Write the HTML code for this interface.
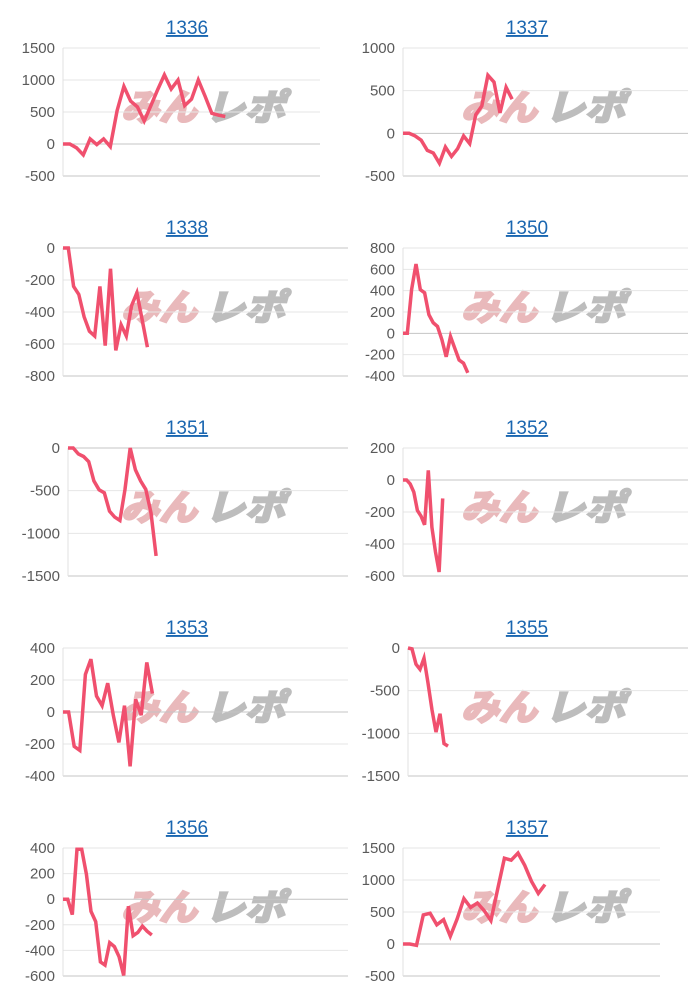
<!DOCTYPE html>
<html><head><meta charset="utf-8">
<style>
html,body{margin:0;padding:0;background:#fff;}
svg{display:block;font-family:"Liberation Sans","Noto Sans CJK JP",sans-serif;}
</style></head>
<body>
<svg id="root" width="700" height="1000" viewBox="0 0 700 1000"></svg>
<script>
const titles = ["1336","1337","1338","1350","1351","1352","1353","1355","1356","1357"];
const yTicks1336 = [1500,1000,500,0,-500];
const yTicks1337 = [1000,500,0,-500];
const yTicks1338 = [0,-200,-400,-600,-800];
const yTicks1350 = [800,600,400,200,0,-200,-400];
const yTicks1351 = [0,-500,-1000,-1500];
const yTicks1352 = [200,0,-200,-400,-600];
const yTicks1353 = [400,200,0,-200,-400];
const yTicks1355 = [0,-500,-1000,-1500];
const yTicks1356 = [400,200,0,-200,-400,-600];
const yTicks1357 = [1500,1000,500,0,-500];
const s1336 = [0,0,-60,-170,80,-10,80,-40,520,900,670,580,360,600,850,1080,860,1000,600,700,1000,750,480,450,430];
const s1337 = [0,0,-30,-80,-200,-230,-350,-160,-270,-180,-30,-120,220,320,680,600,240,540,400];
const s1338 = [0,0,-240,-290,-430,-520,-550,-240,-610,-130,-640,-480,-550,-360,-280,-450,-620];
const s1350 = [0,0,410,650,410,380,175,100,65,-60,-220,-30,-140,-250,-280,-370];
const s1351 = [0,0,-70,-100,-160,-385,-490,-525,-740,-810,-850,-485,0,-255,-385,-485,-760,-1265];
const s1352 = [0,0,-25,-75,-190,-225,-280,60,-295,-450,-575,-115];
const s1353 = [0,0,-215,-240,235,330,100,40,180,-20,-190,40,-340,80,-20,310,115];
const s1355 = [0,-10,-190,-250,-120,-410,-725,-985,-770,-1120,-1150];
const s1356 = [0,0,-120,390,390,195,-95,-175,-490,-515,-340,-370,-450,-595,-55,-285,-260,-210,-250,-280];
const s1357 = [0,0,-20,455,480,300,380,120,390,710,570,640,520,365,860,1340,1310,1420,1230,980,790,930];
const xMaxes = [38,47,54,66,54,79,51,70,61,38];

const series=[s1336,s1337,s1338,s1350,s1351,s1352,s1353,s1355,s1356,s1357];
const ticks=[yTicks1336,yTicks1337,yTicks1338,yTicks1350,yTicks1351,yTicks1352,yTicks1353,yTicks1355,yTicks1356,yTicks1357];
const lefts=[63,403,63,403,68,403,63,408,63,403];
const rights=[320,688,348,688,348,688,348,688,348,660];
const NS="http://www.w3.org/2000/svg";
const root=document.getElementById('root');
function mk(tag,attrs,parent){const e=document.createElementNS(NS,tag);for(const k in attrs)e.setAttribute(k,attrs[k]);parent.appendChild(e);return e;}

titles.forEach((t,ci)=>{
  const col=ci%2,row=Math.floor(ci/2);
  const y0=row*200;
  const L=lefts[ci],R=rights[ci],T=y0+48,B=y0+176;
  const tk=ticks[ci];const yMax=tk[0],yMin=tk[tk.length-1];
  const ys=v=>T+(yMax-v)/(yMax-yMin)*(B-T);
  const xs=i=>L+i/xMaxes[ci]*(R-L);
  const g=mk('g',{},root);
  
  
  // watermark
  const wx=col?461:121;
  const w1=mk('text',{x:wx,y:y0+120,'font-size':36,'font-weight':'bold','font-style':'italic',fill:'#e9b9bb',stroke:'#e9b9bb','stroke-width':2.5,textLength:76,lengthAdjust:'spacingAndGlyphs'},g);
  w1.textContent='みん';
  
  
  const w2=mk('text',{x:wx+84,y:y0+120,'font-size':36,'font-weight':'bold','font-style':'italic',fill:'#bdbdbd',stroke:'#bdbdbd','stroke-width':2.5,textLength:80,lengthAdjust:'spacingAndGlyphs'},g);
  w2.textContent='レポ';
  
  
  tk.forEach(v=>{
    const y=ys(v);
    const gl=mk('line',{x1:L,x2:R,y1:y,y2:y,stroke:(v===0||v===yMin)?'#c4c4c4':'#e6e6e6','stroke-width':1},g);
    
    
    const lb=mk('text',{x:L-8,y:y+5,'text-anchor':'end','font-size':15,fill:'#5a5a5a'},g);
    lb.textContent=v;
    
    
  });
  const ax=mk('line',{x1:L,x2:L,y1:T,y2:B,stroke:'#e0e0e0','stroke-width':1},g);
  
  
  const d=series[ci].map((v,i)=>(i?'L':'M')+xs(i).toFixed(1)+','+ys(v).toFixed(1)).join(' ');
  const p=mk('path',{d:d,fill:'none',stroke:'#f0506e','stroke-width':3.5,'stroke-linejoin':'miter','stroke-miterlimit':4},g);
  
  
  const title=mk('text',{x:col?527:187,y:y0+34,'text-anchor':'middle','font-size':19,fill:'#1a66b0','text-decoration':'underline'},g);
  title.textContent=t;
  
  
});
</script>
</body></html>
